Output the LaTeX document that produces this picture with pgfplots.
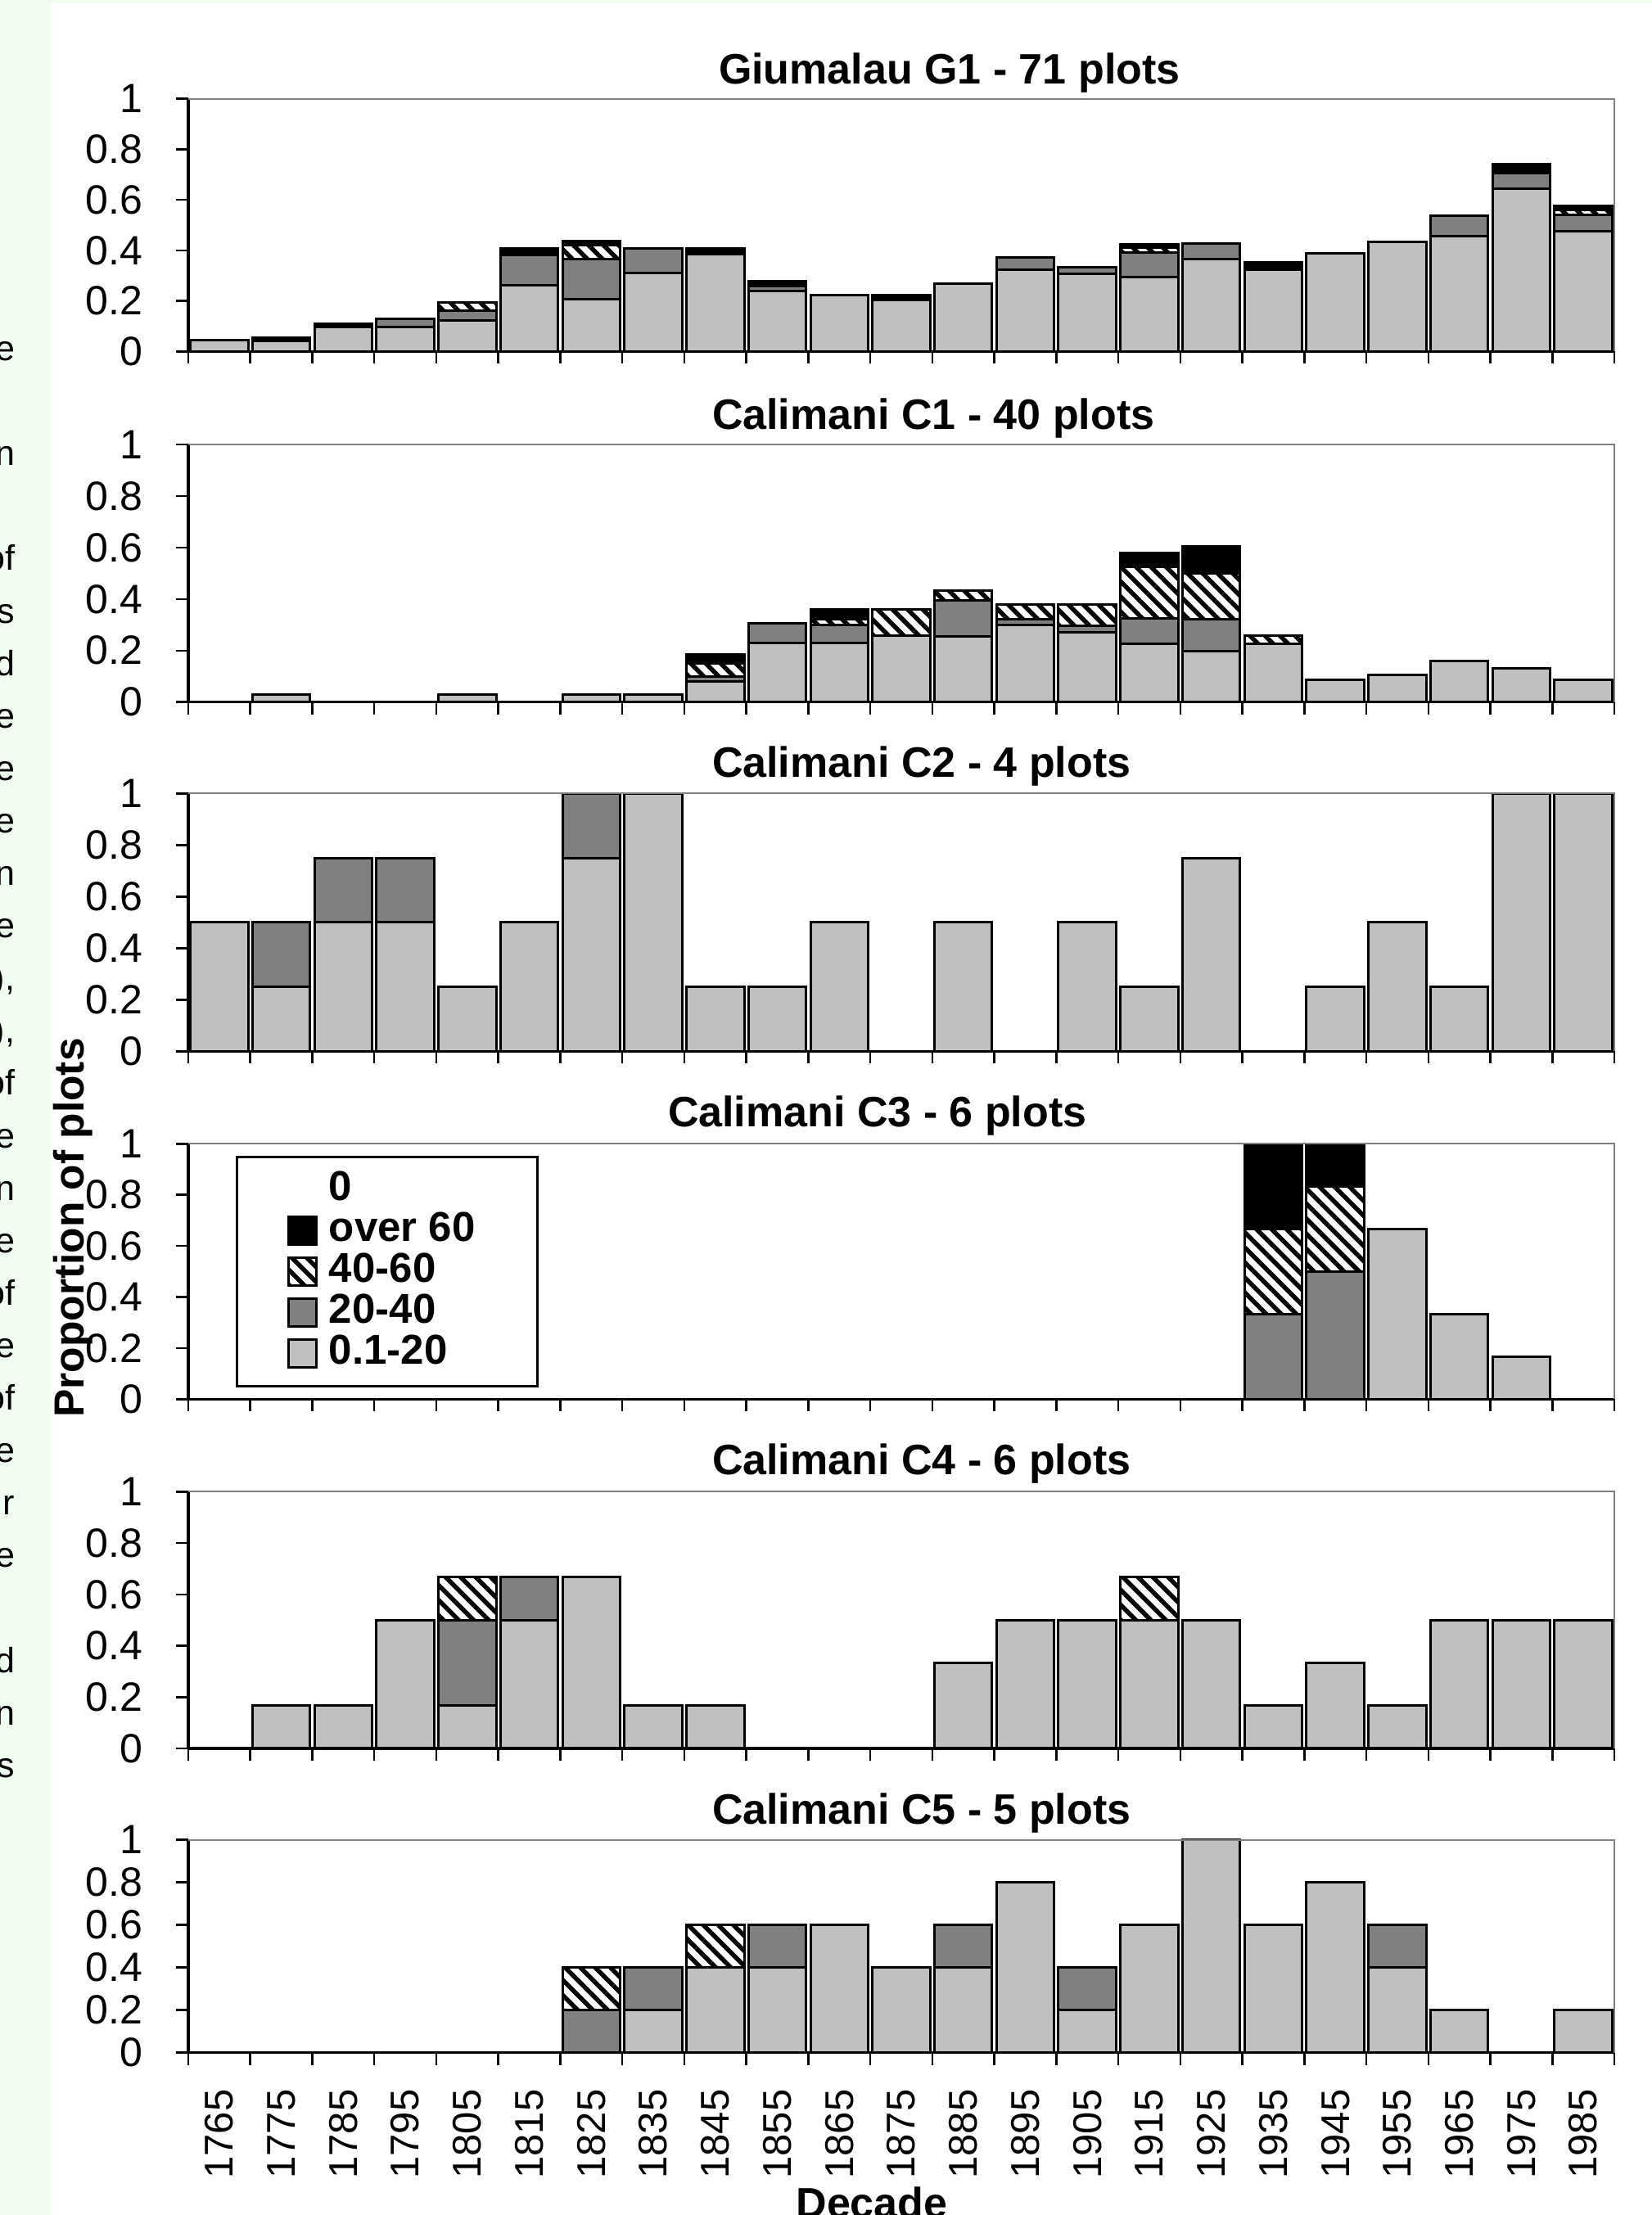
\documentclass[border=0pt]{standalone}
\usepackage{fontspec}
\setmainfont{Liberation Sans}
\usepackage{pgfplots}
\pgfplotsset{compat=1.18}
\usepackage{pgfplotstable}
\usetikzlibrary{patterns.meta}

\definecolor{lightbar}{RGB}{192,192,192}
\definecolor{darkbar}{RGB}{128,128,128}
\definecolor{stripgreen}{RGB}{240,253,240}

\pgfplotstableread{
x a b c d
0 0.044 0 0 0
1 0.041 0 0 0.014
2 0.097 0 0 0.013
3 0.097 0.033 0 0
4 0.124 0.038 0.032 0
5 0.262 0.119 0.011 0.016
6 0.208 0.159 0.054 0.016
7 0.311 0.097 0 0
8 0.384 0 0 0.024
9 0.239 0.021 0 0.019
10 0.222 0 0 0
11 0.205 0 0 0.017
12 0.268 0 0 0
13 0.324 0.049 0 0
14 0.309 0.026 0 0
15 0.293 0.100 0.017 0.014
16 0.365 0.063 0 0
17 0.324 0 0 0.028
18 0.389 0 0 0
19 0.435 0 0 0
20 0.457 0.081 0 0
21 0.644 0.061 0.011 0.025
22 0.476 0.064 0.019 0.018
}\tgone

\pgfplotstableread{
x a b c d
0 0 0 0 0
1 0.03 0 0 0
2 0 0 0 0
3 0 0 0 0
4 0.03 0 0 0
5 0 0 0 0
6 0.03 0 0 0
7 0.03 0 0 0
8 0.079 0.021 0.05 0.035
9 0.228 0.077 0 0
10 0.229 0.07 0.024 0.037
11 0.257 0 0.103 0
12 0.255 0.14 0.037 0
13 0.30 0.023 0.056 0
14 0.27 0.027 0.082 0
15 0.227 0.099 0.198 0.054
16 0.199 0.124 0.177 0.104
17 0.225 0 0.034 0
18 0.086 0 0 0
19 0.104 0 0 0
20 0.159 0 0 0
21 0.13 0 0 0
22 0.086 0 0 0
}\tcone

\pgfplotstableread{
x a b c d
0 0.5 0 0 0
1 0.25 0.25 0 0
2 0.5 0.25 0 0
3 0.5 0.25 0 0
4 0.25 0 0 0
5 0.5 0 0 0
6 0.75 0.25 0 0
7 1 0 0 0
8 0.25 0 0 0
9 0.25 0 0 0
10 0.5 0 0 0
11 0 0 0 0
12 0.5 0 0 0
13 0 0 0 0
14 0.5 0 0 0
15 0.25 0 0 0
16 0.75 0 0 0
17 0 0 0 0
18 0.25 0 0 0
19 0.5 0 0 0
20 0.25 0 0 0
21 1 0 0 0
22 1 0 0 0
}\tctwo

\pgfplotstableread{
x a b c d
0 0 0 0 0
1 0 0 0 0
2 0 0 0 0
3 0 0 0 0
4 0 0 0 0
5 0 0 0 0
6 0 0 0 0
7 0 0 0 0
8 0 0 0 0
9 0 0 0 0
10 0 0 0 0
11 0 0 0 0
12 0 0 0 0
13 0 0 0 0
14 0 0 0 0
15 0 0 0 0
16 0 0 0 0
17 0 0.333 0.333 0.334
18 0 0.5 0.333 0.167
19 0.667 0 0 0
20 0.333 0 0 0
21 0.167 0 0 0
22 0 0 0 0
}\tcthree

\pgfplotstableread{
x a b c d
0 0 0 0 0
1 0.167 0 0 0
2 0.167 0 0 0
3 0.5 0 0 0
4 0.167 0.333 0.167 0
5 0.5 0.167 0 0
6 0.667 0 0 0
7 0.167 0 0 0
8 0.167 0 0 0
9 0 0 0 0
10 0 0 0 0
11 0 0 0 0
12 0.333 0 0 0
13 0.5 0 0 0
14 0.5 0 0 0
15 0.5 0 0.167 0
16 0.5 0 0 0
17 0.167 0 0 0
18 0.333 0 0 0
19 0.167 0 0 0
20 0.5 0 0 0
21 0.5 0 0 0
22 0.5 0 0 0
}\tcfour

\pgfplotstableread{
x a b c d
0 0 0 0 0
1 0 0 0 0
2 0 0 0 0
3 0 0 0 0
4 0 0 0 0
5 0 0 0 0
6 0 0.2 0.2 0
7 0.2 0.2 0 0
8 0.4 0 0.2 0
9 0.4 0.2 0 0
10 0.6 0 0 0
11 0.4 0 0 0
12 0.4 0.2 0 0
13 0.8 0 0 0
14 0.2 0.2 0 0
15 0.6 0 0 0
16 1.0 0 0 0
17 0.6 0 0 0
18 0.8 0 0 0
19 0.4 0.2 0 0
20 0.2 0 0 0
21 0 0 0 0
22 0.2 0 0 0
}\tcfive

\pgfplotsset{
  sq/.style={legend image code/.code={\draw[##1] (0pt,-3.4pt) rectangle (6.8pt,3.4pt);}},
  lt/.style={fill=lightbar, draw=black, line width=0.6pt, sq},
  dk/.style={fill=darkbar, draw=black, line width=0.6pt, sq},
  ht/.style={draw=black, line width=0.6pt, pattern={Lines[angle=-45,distance=2.6pt,line width=1.1pt]}, pattern color=black, sq},
  bk/.style={fill=black, draw=black, line width=0.6pt, sq},
  panel/.style={
    anchor=south west, scale only axis, width=348.4pt,
    xmin=-0.5, xmax=22.5, ymin=0, ymax=1,
    ybar stacked, bar width=0.93,
    axis x line*=bottom, axis y line*=left,
    axis line style={black, line width=0.7pt},
    tick align=outside, major tick length=3pt,
    tick style={black, line width=0.5pt},
    ytick={0,0.2,0.4,0.6,0.8,1},
    yticklabels={0,0.2,0.4,0.6,0.8,1},
    yticklabel style={font=\fontsize{10}{12}\selectfont, anchor=east, inner sep=0pt, xshift=-8pt},
    xtick={-0.5,0.5,...,22.5},
    xticklabels={},
    /pgf/number format/assume math mode=true,
    clip=false,
    extra description/.code={\draw[darkbar, line width=0.4pt] (0,1) -- (1,1) -- (1,0);},
  },
}

\begin{document}
\begin{tikzpicture}
\useasboundingbox (0,0) rectangle (403.6pt,541.2pt);
\clip (0,0) rectangle (403.6pt,541.2pt);
\fill[stripgreen] (0,0) rectangle (403.6pt,541.2pt);
\fill[white] (12.4pt,0) rectangle (403.6pt,540.4pt);
\foreach \k/\t in {0/e,2/n,4/of,5/s,6/d,7/e,8/e,9/e,10/n,11/e,12/{),},13/{),},14/of,15/e,16/n,17/e,18/of,19/e,20/of,21/e,22/r,23/e,25/d,26/n,27/s}
  \node[anchor=base east, inner sep=0pt, font=\fontsize{8.6}{10}\selectfont] at (3.8pt,{(2265.5-64.1*\k)*0.2pt}) {\t};

% titles
\begin{scope}[every node/.style={anchor=base west, inner sep=0pt, font=\bfseries\fontsize{10.4}{12}\selectfont}]
\node at (175.4pt,520.6pt) {Giumalau G1 - 71 plots};
\node at (173.8pt,436.2pt) {Calimani C1 - 40 plots};
\node at (173.8pt,351.2pt) {Calimani C2 - 4 plots};
\node at (163pt,265.8pt) {Calimani C3 - 6 plots};
\node at (173.8pt,180.8pt) {Calimani C4 - 6 plots};
\node at (173.8pt,95.4pt) {Calimani C5 - 5 plots};
\end{scope}

% G1
\begin{axis}[panel, at={(46pt,455.3pt)}, height=61.76pt]
\addplot[lt] table[x=x,y=a]{\tgone};
\addplot[dk] table[x=x,y=b]{\tgone};
\addplot[ht] table[x=x,y=c]{\tgone};
\addplot[bk] table[x=x,y=d]{\tgone};
\end{axis}

% C1
\begin{axis}[panel, at={(46pt,369.66pt)}, height=62.9pt]
\addplot[lt] table[x=x,y=a]{\tcone};
\addplot[dk] table[x=x,y=b]{\tcone};
\addplot[ht] table[x=x,y=c]{\tcone};
\addplot[bk] table[x=x,y=d]{\tcone};
\end{axis}

% C2
\begin{axis}[panel, at={(46pt,284.3pt)}, height=63pt]
\addplot[lt] table[x=x,y=a]{\tctwo};
\addplot[dk] table[x=x,y=b]{\tctwo};
\addplot[ht] table[x=x,y=c]{\tctwo};
\addplot[bk] table[x=x,y=d]{\tctwo};
\end{axis}

% C3 with legend
\begin{axis}[panel, at={(46pt,199.34pt)}, height=62.4pt,
  reverse legend, legend cell align=left,
  legend style={at={(0.0333,0.952)}, anchor=north west, draw=black, line width=0.6pt,
    font=\bfseries\fontsize{10.2}{12}\selectfont, inner xsep=12.4pt, inner ysep=3pt,
    nodes={inner ysep=0pt, inner xsep=2.7pt, text height=7.5pt, text depth=2.5pt}}]
\addplot[lt] table[x=x,y=a]{\tcthree}; \addlegendentry{0.1-20}
\addplot[dk] table[x=x,y=b]{\tcthree}; \addlegendentry{20-40}
\addplot[ht] table[x=x,y=c]{\tcthree}; \addlegendentry{40-60}
\addplot[bk] table[x=x,y=d]{\tcthree}; \addlegendentry{over 60}
\addlegendimage{empty legend}\addlegendentry{0}
\end{axis}

% C4
\begin{axis}[panel, at={(46pt,114pt)}, height=62.7pt]
\addplot[lt] table[x=x,y=a]{\tcfour};
\addplot[dk] table[x=x,y=b]{\tcfour};
\addplot[ht] table[x=x,y=c]{\tcfour};
\addplot[bk] table[x=x,y=d]{\tcfour};
\end{axis}

% C5
\begin{axis}[panel, at={(46pt,39.66pt)}, height=52pt,
  extra x ticks={0,1,...,22},
  extra x tick labels={1765,1775,1785,1795,1805,1815,1825,1835,1845,1855,1865,1875,1885,1895,1905,1915,1925,1935,1945,1955,1965,1975,1985},
  extra x tick style={major tick length=0pt,
    xticklabel style={yshift=-8.8pt, rotate=90, anchor=east, inner sep=0pt, font=\fontsize{9.8}{12}\selectfont}}]
\addplot[lt] table[x=x,y=a]{\tcfive};
\addplot[dk] table[x=x,y=b]{\tcfive};
\addplot[ht] table[x=x,y=c]{\tcfive};
\addplot[bk] table[x=x,y=d]{\tcfive};
\end{axis}

\node[rotate=90, inner sep=0pt, font=\bfseries\fontsize{10.3}{12}\selectfont] at (17.8pt,241.2pt) {Proportion of plots};
\node[anchor=base, inner sep=0pt, font=\bfseries\fontsize{10.4}{12}\selectfont] at (213pt,-0.8pt) {Decade};
\end{tikzpicture}
\end{document}
